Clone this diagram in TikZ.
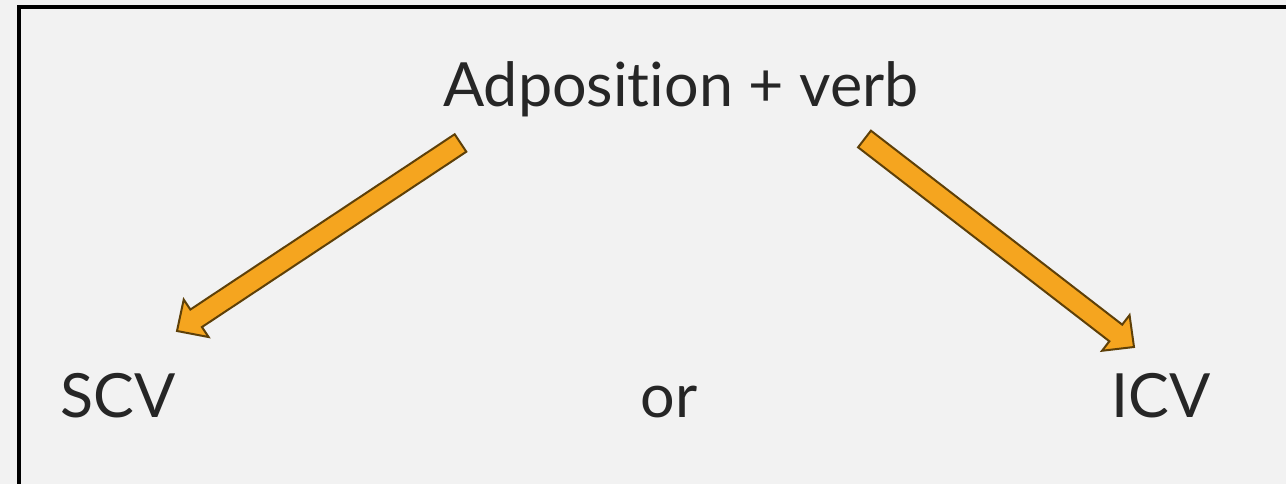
\documentclass[tikz,border=0pt]{standalone}
\usepackage{fontspec}
\setmainfont{Lato}[Ligatures={NoCommon,NoDiscretionary}]
\usetikzlibrary{calc}
\definecolor{bg}{HTML}{F2F2F2}
\definecolor{txt}{HTML}{262626}
\definecolor{arrfill}{HTML}{F5A51F}
\definecolor{arrline}{HTML}{5E4008}
\tikzset{
  lbl/.style={anchor=base, inner sep=0pt, text=txt, font=\fontsize{61}{70}\selectfont},
  blockarrow/.style={fill=arrfill, draw=arrline, line width=2pt, line join=miter}
}
\newcommand{\blockarr}[2]{%
  \coordinate (hb) at ($(#2)!23pt!(#1)$);
  \path[blockarrow]
    ($(#1)!10.5pt!90:(#2)$) -- ($(hb)!10.5pt!90:(#2)$) -- ($(hb)!22.5pt!90:(#2)$)
    -- (#2) -- ($(hb)!22.5pt!-90:(#2)$) -- ($(hb)!10.5pt!-90:(#2)$)
    -- ($(#1)!10.5pt!-90:(#2)$) -- cycle;
}
\begin{document}
\begin{tikzpicture}[x=1pt,y=-1pt]
\useasboundingbox (0,0) rectangle (1286,484);
\fill[bg] (0,0) rectangle (1286,484);
\draw[black, line width=4pt] (18.5,490) |- (1292,7);
\node[lbl] (top) at (681,107) {Adposition + verb};
\node[lbl] (scv) at (118,417) {SCV};
\node[lbl] (or) at (669,417) {or};
\node[lbl] (icv) at (1161,417) {ICV};
\coordinate (lt) at (460.5,143);
\coordinate (lp) at (177,331);
\coordinate (rt) at (864.5,139);
\coordinate (rp) at (1134,347);
\blockarr{lt}{lp}
\blockarr{rt}{rp}
\end{tikzpicture}
\end{document}
